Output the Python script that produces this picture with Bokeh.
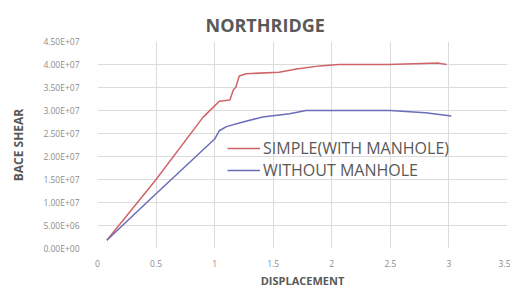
from bokeh.plotting import figure
from bokeh.models import FixedTicker, Range1d, Legend, LegendItem
from bokeh.embed import file_html
from bokeh.resources import INLINE

title = "NORTHRIDGE"
x_label = "DISPLACEMENT"
y_label = "BACE SHEAR"

x_ticks = [0, 0.5, 1, 1.5, 2, 2.5, 3, 3.5]
x_tick_labels = ["0", "0.5", "1", "1.5", "2", "2.5", "3", "3.5"]
y_ticks = [0, 5e6, 1e7, 1.5e7, 2e7, 2.5e7, 3e7, 3.5e7, 4e7, 4.5e7]
y_tick_labels = ["0.00E+00", "5.00E+06", "1.00E+07", "1.50E+07", "2.00E+07",
                 "2.50E+07", "3.00E+07", "3.50E+07", "4.00E+07", "4.50E+07"]

simple_name = "SIMPLE(WITH MANHOLE)"
simple_x = [0.08, 0.5, 0.9, 1.0, 1.04, 1.13, 1.16, 1.18, 1.21, 1.27, 1.55, 1.7, 1.9, 2.06, 2.48, 2.91, 2.98]
simple_y = [1.8e6, 1.5e7, 2.85e7, 3.1e7, 3.2e7, 3.23e7, 3.45e7, 3.5e7, 3.75e7, 3.8e7, 3.83e7, 3.9e7, 3.97e7, 4.0e7, 4.0e7, 4.03e7, 4.0e7]

without_name = "WITHOUT MANHOLE"
without_x = [0.08, 0.47, 1.0, 1.04, 1.1, 1.21, 1.41, 1.64, 1.78, 2.0, 2.5, 2.8, 3.02]
without_y = [1.8e6, 1.12e7, 2.38e7, 2.56e7, 2.65e7, 2.73e7, 2.86e7, 2.93e7, 3.0e7, 3.0e7, 3.0e7, 2.95e7, 2.88e7]

p = figure(width=510, height=291, output_backend="svg", toolbar_location=None,
           x_range=Range1d(0, 3.5), y_range=Range1d(0, 4.5e7),
           min_border_left=97, min_border_right=3, min_border_top=41, min_border_bottom=43)
p.outline_line_color = None
p.background_fill_color = "white"

p.title.text = title
p.title.align = "left"
p.title.offset = 108
p.title.standoff = 5
p.title.vertical_align = "top"
p.title.text_font = "Open Sans"
p.title.text_font_style = "bold"
p.title.text_font_size = "18px"
p.title.text_color = "#595959"

p.xaxis.ticker = FixedTicker(ticks=x_ticks)
p.xaxis.major_label_overrides = {t: l for t, l in zip(x_ticks, x_tick_labels)}
p.yaxis.ticker = FixedTicker(ticks=y_ticks)
p.yaxis.major_label_overrides = {t: l for t, l in zip(y_ticks, y_tick_labels)}

for ax in (p.xaxis[0], p.yaxis[0]):
    ax.axis_line_color = None
    ax.major_tick_line_color = None
    ax.minor_tick_line_color = None
    ax.major_label_text_font = "Open Sans"
    ax.major_label_text_font_size = "8.5px"
    ax.major_label_text_color = "#8c8c8c"
    ax.axis_label_text_font = "Open Sans"
    ax.axis_label_text_font_style = "bold"
    ax.axis_label_text_color = "#595959"

p.xaxis.axis_label = x_label
p.yaxis.axis_label = y_label
p.xaxis.axis_label_text_font_size = "11px"
p.yaxis.axis_label_text_font_size = "12px"
p.xaxis.major_label_standoff = 5
p.yaxis.major_label_standoff = 12
p.xaxis.axis_label_standoff = 3
p.yaxis.axis_label_standoff = 13

p.xgrid.grid_line_color = "#dcdcdc"
p.ygrid.grid_line_color = "#dcdcdc"

r1 = p.line(simple_x, simple_y, line_color="#cf6468", line_width=1.5)
r2 = p.line(without_x, without_y, line_color="#6a6db8", line_width=1.5)

legend = Legend(items=[LegendItem(label=simple_name, renderers=[r1]),
                       LegendItem(label=without_name, renderers=[r2])],
                location=(130, 67), orientation="vertical",
                label_text_font="Open Sans", label_text_font_size="16px",
                label_text_color="#595959", glyph_width=33, glyph_height=18,
                label_height=18, spacing=0, padding=0, margin=0,
                label_standoff=3, border_line_color=None, background_fill_alpha=0)
p.add_layout(legend, "center")

open("out.html", "w").write(file_html(p, INLINE))
